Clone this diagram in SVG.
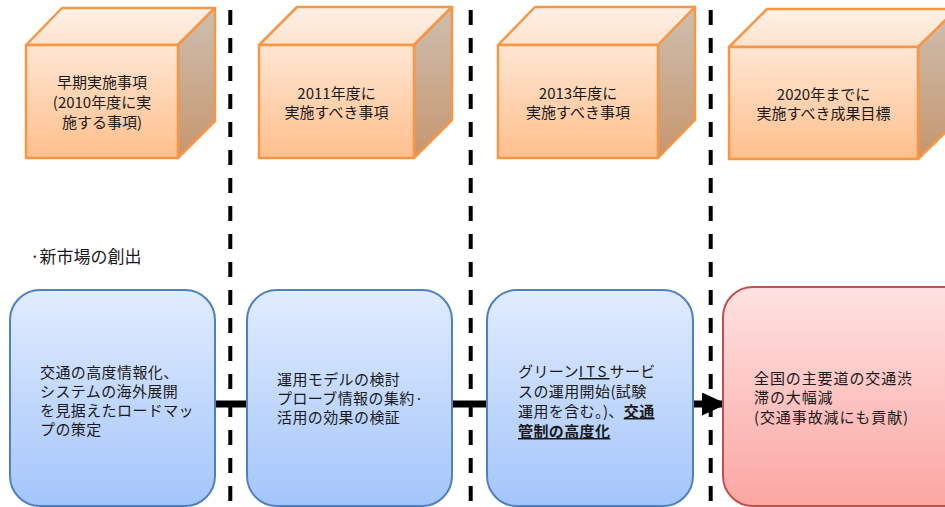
<svg xmlns="http://www.w3.org/2000/svg" width="945" height="507" viewBox="0 0 945 507">
<defs>
<linearGradient id="gFront" x1="0" y1="0" x2="0" y2="1"><stop offset="0" stop-color="#FEE6D3"/><stop offset="1" stop-color="#FFBF8C"/></linearGradient>
<linearGradient id="gTop" x1="0" y1="0" x2="0" y2="1"><stop offset="0" stop-color="#FEF1E6"/><stop offset="1" stop-color="#FDE3CE"/></linearGradient>
<linearGradient id="gSide" x1="0" y1="0" x2="0" y2="1"><stop offset="0" stop-color="#CDBFB0"/><stop offset="1" stop-color="#C6966E"/></linearGradient>
<linearGradient id="gBlue" x1="0" y1="0" x2="0" y2="1"><stop offset="0" stop-color="#E1ECFD"/><stop offset="1" stop-color="#A4C5FB"/></linearGradient>
<linearGradient id="gRed" x1="0" y1="0" x2="0" y2="1"><stop offset="0" stop-color="#FEE2E2"/><stop offset="1" stop-color="#FBA6A2"/></linearGradient>
<marker id="ah" markerWidth="25" markerHeight="23" refX="24" refY="11.5" orient="auto" markerUnits="userSpaceOnUse"><path d="M0,0 L25,11.5 L0,23 z" fill="#000"/></marker>
</defs>
<style>
.cf{fill:url(#gFront);stroke:#F79646;stroke-width:2.5;stroke-linejoin:round}
.ct{fill:url(#gTop);stroke:#F79646;stroke-width:2.5;stroke-linejoin:round}
.cs{fill:url(#gSide);stroke:#F79646;stroke-width:2.5;stroke-linejoin:round}
.bb{fill:url(#gBlue);stroke:#4F81BD;stroke-width:2}
.rb{fill:url(#gRed);stroke:#C0504D;stroke-width:2}
text{font-family:"Noto Sans CJK JP","Noto Sans",sans-serif;font-size:15px;fill:#1a1a1a}
.bt{letter-spacing:0.4px}
.rt{letter-spacing:0.9px}
.mid{text-anchor:middle}
.dash{stroke:#000;stroke-width:4;stroke-dasharray:15 13;fill:none}
.con{stroke:#000;stroke-width:7;fill:none}
.bu{font-weight:bold;text-decoration:underline}
</style>
<g id="dividers">
<line class="dash" x1="230.3" y1="10" x2="230.3" y2="507"/>
<line class="dash" x1="470.7" y1="10" x2="470.7" y2="507"/>
<line class="dash" x1="710.7" y1="10" x2="710.7" y2="507"/>
</g>
<g id="cube1">
<polygon class="ct" points="26,45 62,8 215,8 178,45"/>
<polygon class="cs" points="178,45 215,8 215,121 178,158"/>
<rect class="cf" x="26" y="45" width="152" height="113"/>
<text class="mid" x="102" y="88">早期実施事項</text>
<text class="mid" x="102" y="108">(2010年度に実</text>
<text class="mid" x="102" y="128">施する事項)</text>
</g>
<g id="cube2">
<polygon class="ct" points="259,45 297,7 452,7 414,45"/>
<polygon class="cs" points="414,45 452,7 452,120 414,158"/>
<rect class="cf" x="259" y="45" width="155" height="113"/>
<text class="mid" x="336.5" y="99">2011年度に</text>
<text class="mid" x="336.5" y="118">実施すべき事項</text>
</g>
<g id="cube3">
<polygon class="ct" points="498,45 535,7 695,7 658,45"/>
<polygon class="cs" points="658,45 695,7 695,120 658,158"/>
<rect class="cf" x="498" y="45" width="160" height="113"/>
<text class="mid" x="578" y="99">2013年度に</text>
<text class="mid" x="578" y="118">実施すべき事項</text>
</g>
<g id="cube4">
<polygon class="ct" points="729,47 767,9 957,9 918,47"/>
<polygon class="cs" points="918,47 957,9 957,121 918,159"/>
<rect class="cf" x="729" y="47" width="189" height="112"/>
<text class="mid" x="823.5" y="100">2020年までに</text>
<text class="mid" x="823.5" y="119">実施すべき成果目標</text>
</g>
<g id="label">
<text x="30" y="263" style="font-size:17px">·新市場の創出</text>
</g>
<g id="connectors">
<line class="con" x1="213" y1="404" x2="249" y2="404"/>
<line class="con" x1="450" y1="404" x2="489" y2="404"/>
<line class="con" x1="692" y1="404" x2="726" y2="404" marker-end="url(#ah)"/>
</g>
<g id="step1">
<rect class="bb" x="10" y="290" width="205" height="216" rx="30"/>
<text class="bt" x="40" y="378">交通の高度情報化、</text>
<text class="bt" x="40" y="397">システムの海外展開</text>
<text class="bt" x="40" y="416">を見据えたロードマッ</text>
<text class="bt" x="40" y="435">プの策定</text>
</g>
<g id="step2">
<rect class="bb" x="247" y="290" width="205" height="216" rx="30"/>
<text class="bt" x="277" y="385">運用モデルの検討</text>
<text class="bt" x="277" y="404">プローブ情報の集約·</text>
<text class="bt" x="277" y="423">活用の効果の検証</text>
</g>
<g id="step3">
<rect class="bb" x="487" y="290" width="206" height="216" rx="30"/>
<text class="bt" x="518" y="377">グリーン<tspan style="text-decoration:underline;letter-spacing:3px">ITS</tspan>サービ</text>
<text class="bt" x="518" y="397">スの運用開始(試験</text>
<text class="bt" x="518" y="417">運用を含む。)、<tspan class="bu">交通</tspan></text>
<text class="bt bu" x="518" y="437">管制の高度化</text>
</g>
<g id="goal">
<rect class="rb" x="723" y="287" width="250" height="219" rx="30"/>
<text class="rt" x="754" y="384">全国の主要道の交通渋</text>
<text class="rt" x="754" y="403">滞の大幅減</text>
<text class="rt" x="754" y="423">(交通事故減にも貢献)</text>
</g>
</svg>
